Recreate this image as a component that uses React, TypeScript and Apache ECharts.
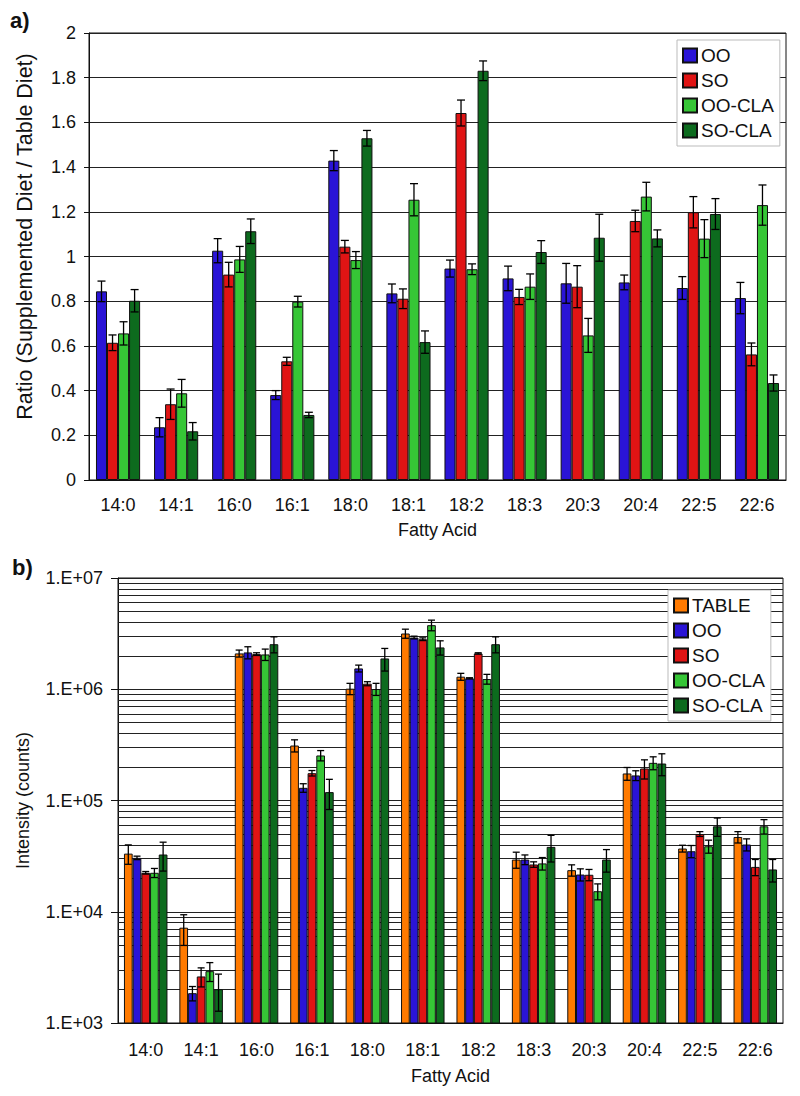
import React, { useEffect, useRef } from "react";
import * as echarts from "echarts";

const categories = ["14:0", "14:1", "16:0", "16:1", "18:0", "18:1", "18:2", "18:3", "20:3", "20:4", "22:5", "22:6"];

// Panel a) ratios (supplemented / table diet) and their error values
const ratioNames = ["OO", "SO", "OO-CLA", "SO-CLA"];
const ratioOO = [0.844, 0.236, 1.026, 0.38, 1.429, 0.835, 0.946, 0.902, 0.88, 0.884, 0.859, 0.814];
const ratioOOErr = [0.046, 0.043, 0.054, 0.02, 0.045, 0.042, 0.038, 0.055, 0.089, 0.033, 0.051, 0.07];
const ratioSO = [0.614, 0.339, 0.919, 0.531, 1.044, 0.811, 1.642, 0.819, 0.865, 1.159, 1.198, 0.562];
const ratioSOErr = [0.035, 0.068, 0.055, 0.018, 0.028, 0.044, 0.058, 0.034, 0.094, 0.048, 0.07, 0.051];
const ratioOOCLA = [0.656, 0.388, 0.987, 0.798, 0.984, 1.254, 0.943, 0.865, 0.647, 1.268, 1.08, 1.23];
const ratioOOCLAErr = [0.052, 0.062, 0.058, 0.024, 0.038, 0.072, 0.024, 0.057, 0.076, 0.064, 0.085, 0.09];
const ratioSOCLA = [0.802, 0.218, 1.113, 0.291, 1.529, 0.617, 1.831, 1.02, 1.084, 1.081, 1.19, 0.434];
const ratioSOCLAErr = [0.05, 0.039, 0.055, 0.012, 0.035, 0.05, 0.044, 0.051, 0.105, 0.038, 0.069, 0.036];

// Panel b) intensities (counts) and their error values
const intensityNames = ["TABLE", "OO", "SO", "OO-CLA", "SO-CLA"];
const intTABLE = [33300, 7190, 2099000, 312000, 1012000, 3170000, 1297000, 29450, 23650, 175000, 37000, 47000];
const intTABLEErr = [6600, 2210, 151000, 39000, 118000, 297000, 93000, 4850, 2750, 23000, 2600, 5500];
const intOO = [30500, 1854, 2143000, 130000, 1539000, 2918000, 1254000, 29450, 21600, 168000, 35000, 40200];
const intOOErr = [1100, 274, 267000, 11500, 109000, 82000, 15000, 2950, 2700, 17000, 4400, 5000];
const intSO = [22400, 2620, 2070000, 176000, 1122000, 2818000, 2099000, 26600, 21500, 194000, 50000, 25300];
const intSOErr = [600, 510, 58000, 10000, 47000, 79000, 29000, 1500, 2500, 38000, 2500, 4200];
const intOOCLA = [22400, 2925, 2055000, 254000, 1005000, 3767000, 1236000, 27200, 15300, 218000, 38800, 58600];
const intOOCLAErr = [2100, 565, 241000, 27000, 125000, 413000, 125000, 3500, 2500, 29000, 5200, 8700];
const intSOCLA = [32700, 2013, 2541000, 119000, 1892000, 2377000, 2541000, 38300, 29450, 215000, 58600, 24000];
const intSOCLAErr = [9500, 737, 417000, 36000, 435000, 348000, 417000, 10300, 6750, 48000, 11000, 5500];

// Minor log gridlines: multipliers within each decade
const minorDecades = [1000, 10000, 100000, 1000000];
const minorMultipliers = [2, 3, 4, 5, 6, 7, 8, 9];

const colors: Record<string, string> = {
  TABLE: "#ff7a00",
  OO: "#2a14d6",
  SO: "#e01414",
  "OO-CLA": "#36c636",
  "SO-CLA": "#0d6b1e",
};

const FONT = "'Liberation Sans', Arial, sans-serif";
const TICK_FS = 18;
const NAME_FS = 18;
const RATIO_NAME_FS = 21.5;
const LEGEND_FS = 19;

function errorSeries(xAxisIndex: number, yAxisIndex: number, values: number[][], errs: number[][], gapFrac: number, capHalf: number) {
  const data: number[][] = [];
  values.forEach((vals, s) => vals.forEach((v, i) => data.push([i, v, errs[s][i], s])));
  const n = values.length;
  return {
    type: "custom",
    xAxisIndex,
    yAxisIndex,
    z: 4,
    silent: true,
    encode: { x: 0, y: 1 },
    data,
    renderItem: (params: any, api: any) => {
      const i = api.value(0);
      const v = api.value(1);
      const e = api.value(2);
      const s = api.value(3);
      const band = api.size([1, 0], [i, v])[0];
      const bw = (band * (1 - gapFrac)) / n;
      const x = api.coord([i, v])[0] + (s - (n - 1) / 2) * bw;
      const yTop = api.coord([i, v + e])[1];
      const yBot = api.coord([i, v - e])[1];
      const st = { stroke: "#000", lineWidth: 1.3 };
      return {
        type: "group",
        children: [
          { type: "line", shape: { x1: x, y1: yTop, x2: x, y2: yBot }, style: st },
          { type: "line", shape: { x1: x - capHalf, y1: yTop, x2: x + capHalf, y2: yTop }, style: st },
          { type: "line", shape: { x1: x - capHalf, y1: yBot, x2: x + capHalf, y2: yBot }, style: st },
        ],
      };
    },
  };
}

export default function App() {
  const ref = useRef<HTMLDivElement>(null);
  useEffect(() => {
    if (!ref.current) return;
    const chart = echarts.init(ref.current, undefined, { renderer: "svg" });

    const ratioVals = [ratioOO, ratioSO, ratioOOCLA, ratioSOCLA];
    const ratioErrs = [ratioOOErr, ratioSOErr, ratioOOCLAErr, ratioSOCLAErr];
    const intVals = [intTABLE, intOO, intSO, intOOCLA, intSOCLA];
    const intErrs = [intTABLEErr, intOOErr, intSOErr, intOOCLAErr, intSOCLAErr];

    const gapA = 0.24;
    const gapB = 0.215;

    const minorLines: any[] = [];
    minorDecades.forEach((d) => minorMultipliers.forEach((m) => minorLines.push({ yAxis: d * m })));

    const barsA = ratioNames.map((name, s) => ({
      type: "bar",
      name,
      xAxisIndex: 0,
      yAxisIndex: 0,
      data: ratioVals[s],
      barGap: "0%",
      barCategoryGap: gapA * 100 + "%",
      itemStyle: { color: colors[name], borderColor: "#111", borderWidth: 1 },
      z: 2,
    }));
    const barsB = intensityNames.map((name, s) => ({
      type: "bar",
      name,
      xAxisIndex: 1,
      yAxisIndex: 1,
      data: intVals[s],
      barGap: "0%",
      barCategoryGap: gapB * 100 + "%",
      itemStyle: { color: colors[name], borderColor: "#111", borderWidth: 1 },
      z: 2,
      ...(s === 0
        ? {
            markLine: {
              z: 1,
              silent: true,
              symbol: "none",
              label: { show: false },
              lineStyle: { color: "#222", width: 1, type: "solid" },
              data: minorLines,
            },
          }
        : {}),
    }));

    const axisLabelStyle = { fontSize: TICK_FS, color: "#111", fontFamily: FONT };
    const nameStyle = { fontSize: NAME_FS, color: "#111", fontFamily: FONT };
    const legendBase = {
      orient: "vertical",
      itemWidth: 14,
      itemHeight: 14,
      itemGap: 6,
      icon: "rect",
      padding: [6, 6, 6, 5],
      backgroundColor: "#fff",
      borderColor: "#bbb",
      borderWidth: 1,
      textStyle: { fontSize: LEGEND_FS, color: "#111", fontFamily: FONT, padding: [0, 0, 0, -1] },
    };

    chart.setOption({
      animation: false,
      textStyle: { fontFamily: FONT },
      grid: [
        { left: 89, top: 33, width: 697, height: 447, show: true, borderColor: "#111", borderWidth: 1, backgroundColor: "transparent" },
        { left: 118, top: 578, width: 665, height: 445, show: true, borderColor: "#111", borderWidth: 1, backgroundColor: "transparent" },
      ],
      legend: [
        { ...legendBase, data: ratioNames, left: 677, top: 40 },
        { ...legendBase, data: intensityNames, left: 668, top: 590 },
      ],
      xAxis: [
        {
          type: "category",
          gridIndex: 0,
          data: categories,
          axisLine: { lineStyle: { color: "#111" } },
          axisTick: { length: 5, lineStyle: { color: "#111" } },
          axisLabel: { ...axisLabelStyle, margin: 16, interval: 0 },
          name: "Fatty Acid",
          nameLocation: "middle",
          nameGap: 41,
          nameTextStyle: nameStyle,
        },
        {
          type: "category",
          gridIndex: 1,
          data: categories,
          axisLine: { lineStyle: { color: "#111" } },
          axisTick: { length: 5, lineStyle: { color: "#111" } },
          axisLabel: { ...axisLabelStyle, margin: 18, interval: 0 },
          name: "Fatty Acid",
          nameLocation: "middle",
          nameGap: 44,
          nameTextStyle: nameStyle,
        },
      ],
      yAxis: [
        {
          type: "value",
          gridIndex: 0,
          min: 0,
          max: 2,
          interval: 0.2,
          axisLine: { show: true, lineStyle: { color: "#111" } },
          axisTick: { show: true, length: 5, lineStyle: { color: "#111" } },
          splitLine: { show: true, lineStyle: { color: "#222", width: 1 } },
          axisLabel: { ...axisLabelStyle, margin: 13 },
          name: "Ratio (Supplemented Diet / Table Diet)",
          nameLocation: "middle",
          nameGap: 53,
          nameTextStyle: { ...nameStyle, fontSize: RATIO_NAME_FS, padding: [0, 0, 0, 40] },
        },
        {
          type: "log",
          logBase: 10,
          gridIndex: 1,
          min: 1000,
          max: 10000000,
          axisLine: { show: true, lineStyle: { color: "#111" } },
          axisTick: { show: true, length: 7, lineStyle: { color: "#111" } },
          splitLine: { show: true, lineStyle: { color: "#222", width: 1 } },
          axisLabel: {
            ...axisLabelStyle,
            margin: 15,
            formatter: (v: number) => "1.E+" + String(Math.round(Math.log10(v))).padStart(2, "0"),
          },
          name: "Intensity (counts)",
          nameLocation: "middle",
          nameGap: 86,
          nameTextStyle: nameStyle,
        },
      ],
      graphic: [
        { type: "text", left: 10, top: 9, style: { text: "a)", font: `bold 22px ${FONT}`, fill: "#111" } },
        { type: "text", left: 12, top: 556, style: { text: "b)", font: `bold 22px ${FONT}`, fill: "#111" } },
      ],
      series: [
        ...barsA,
        ...barsB,
        errorSeries(0, 0, ratioVals, ratioErrs, gapA, 4),
        errorSeries(1, 1, intVals, intErrs, gapB, 3.5),
      ],
    });
    return () => chart.dispose();
  }, []);
  return <div ref={ref} style={{ position: "absolute", left: 0, top: 0, width: 800, height: 1096, background: "#fff" }} />;
}
